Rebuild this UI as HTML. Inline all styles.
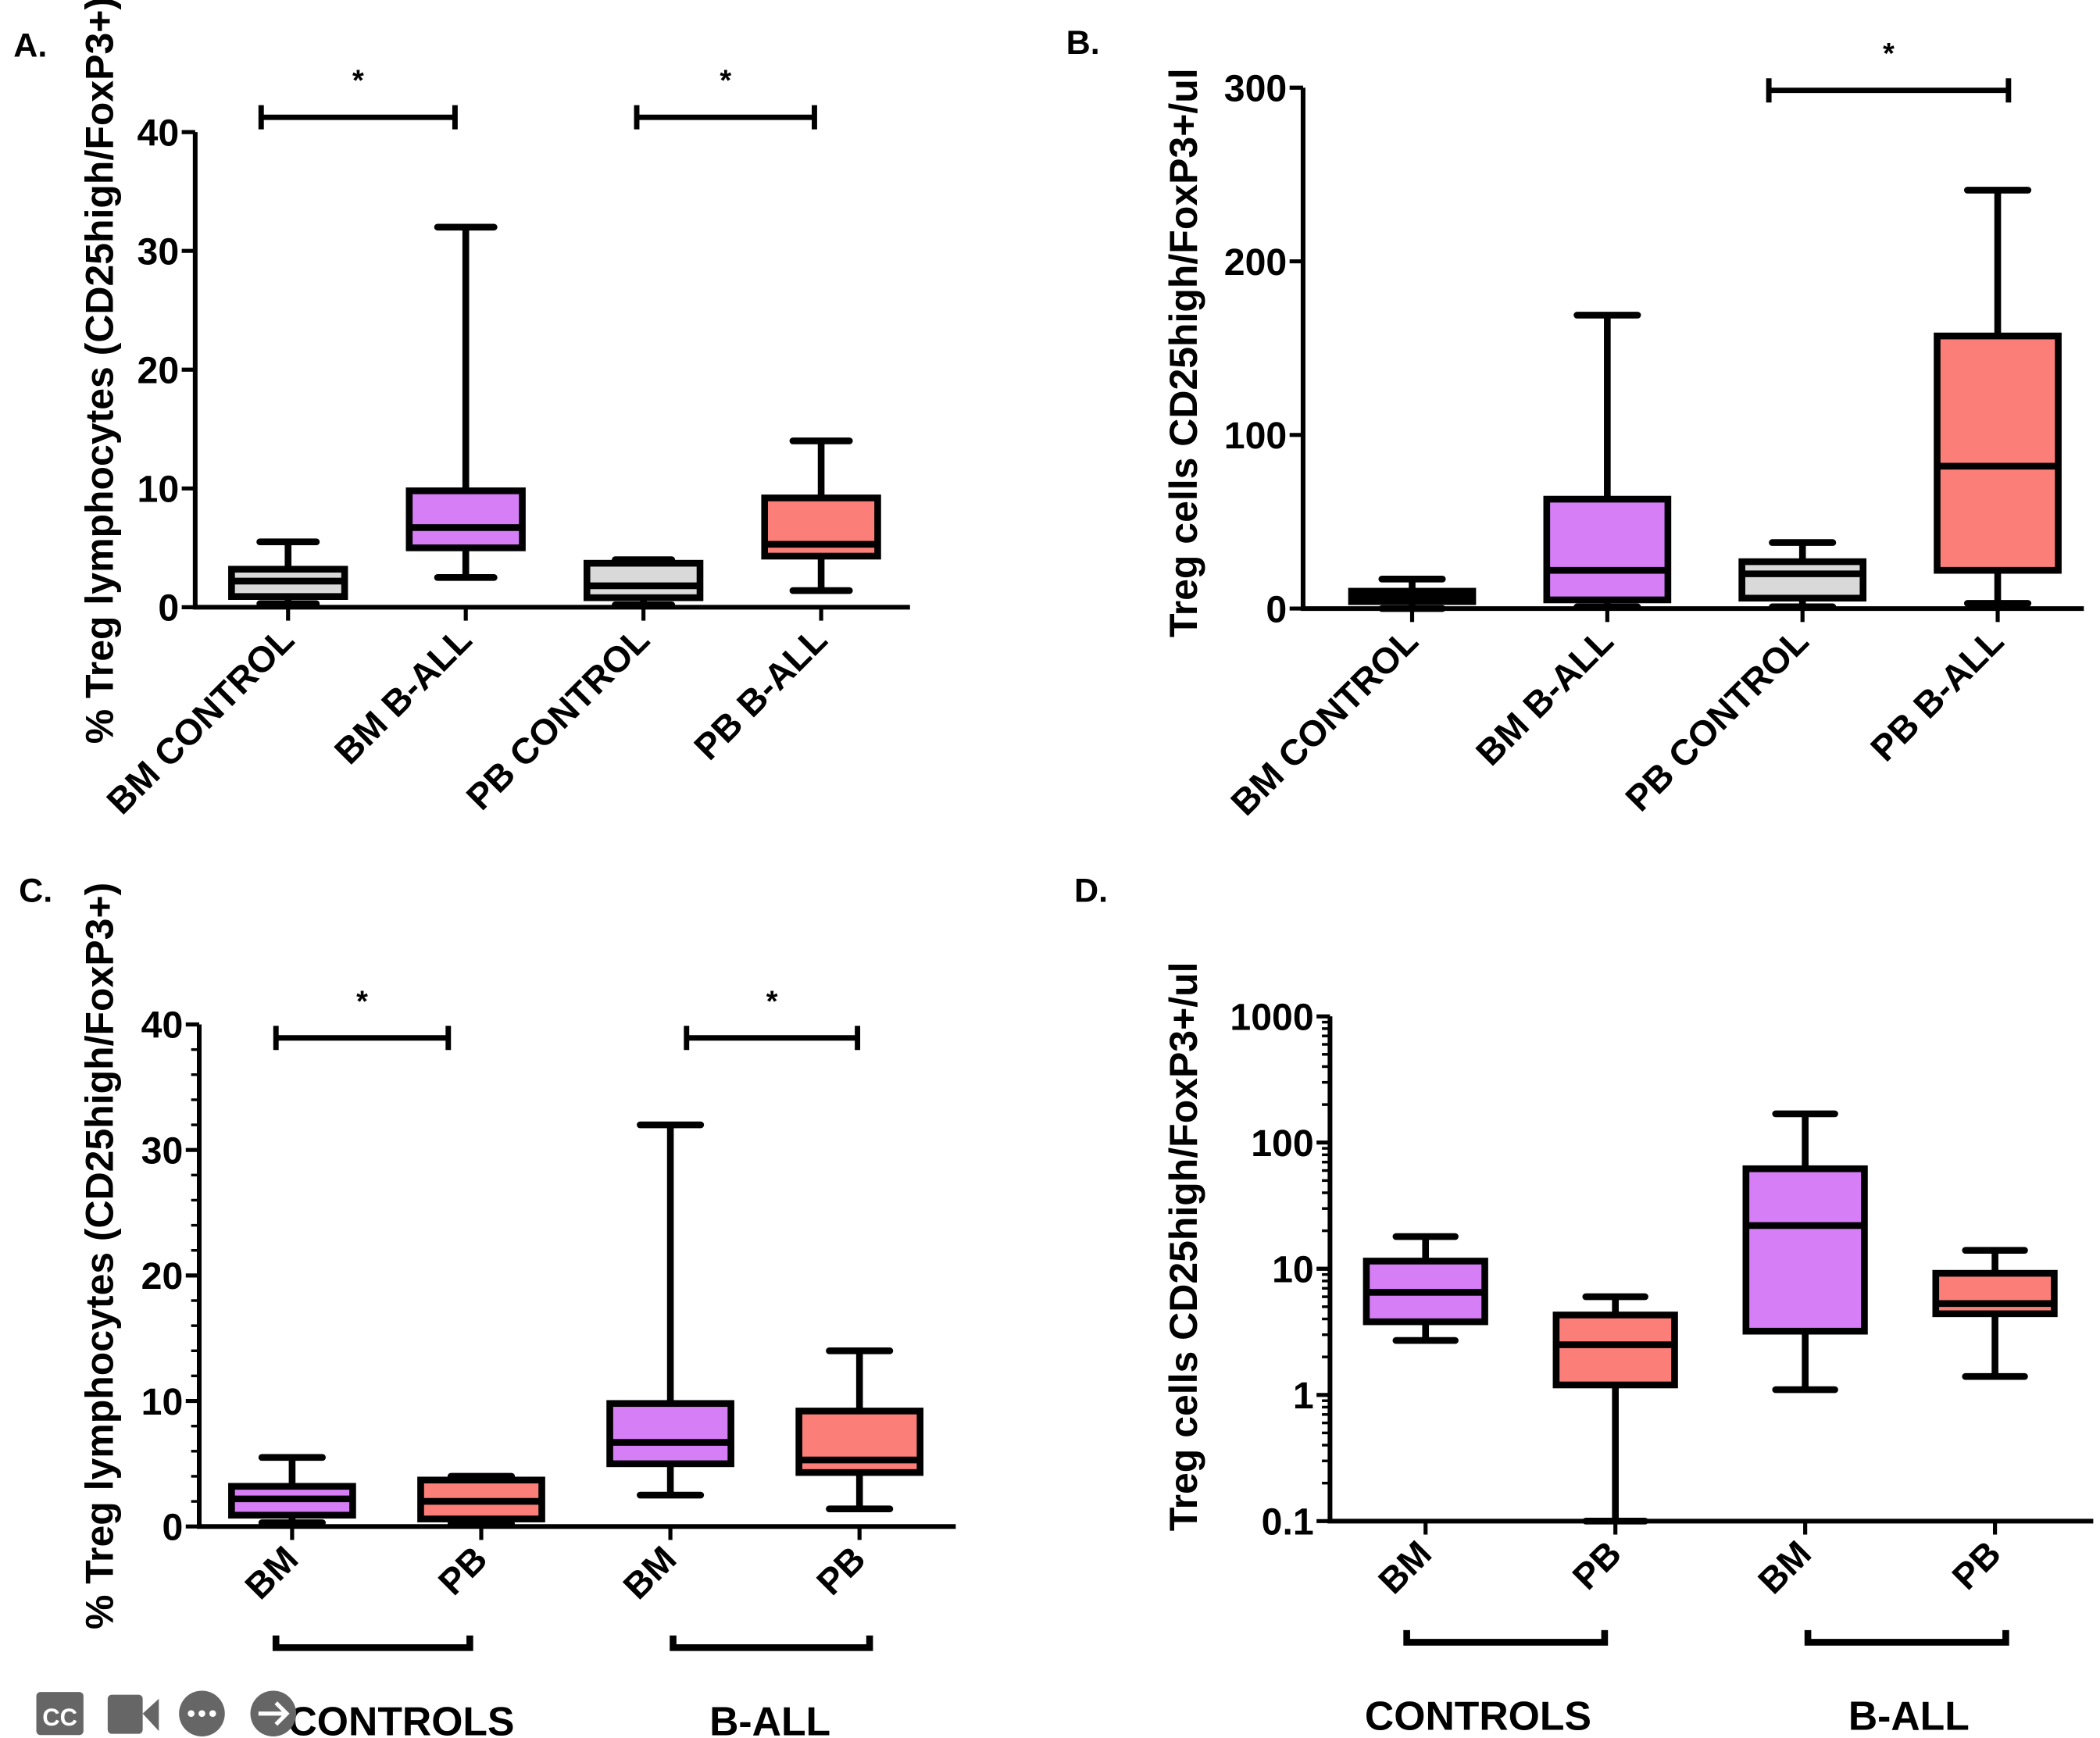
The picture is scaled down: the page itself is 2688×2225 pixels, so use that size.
<!DOCTYPE html>
<html><head><meta charset="utf-8"><style>
html,body{margin:0;padding:0;background:#fff}
svg{display:block}
text{font-family:"Liberation Sans",Arial,sans-serif;font-weight:bold;fill:#000}
</style></head><body>
<svg id="fig" xmlns="http://www.w3.org/2000/svg" width="2688" height="2225" viewBox="0 0 1560 1291">
<text x="10" y="42" font-size="25">A.</text>
<text x="792" y="40" font-size="25">B.</text>
<text x="14" y="670" font-size="25">C.</text>
<text x="798" y="670" font-size="25">D.</text>
<g id="icons" fill="#666">
<rect x="27" y="1257" width="35" height="32" rx="3"/>
<text x="44.5" y="1282" font-size="18" text-anchor="middle" style="fill:#fff">CC</text>
<rect x="80" y="1259" width="26" height="29" rx="3"/>
<polygon points="106,1273 118,1262 118,1286"/>
<circle cx="150" cy="1273" r="17"/>
<circle cx="142" cy="1273" r="2.5" fill="#fff"/><circle cx="150" cy="1273" r="2.5" fill="#fff"/><circle cx="158" cy="1273" r="2.5" fill="#fff"/>
<circle cx="203" cy="1273" r="17"/>
<path d="M192 1273 H213 M205 1265 L213 1273 L205 1281" stroke="#fff" stroke-width="3" fill="none"/>
</g>
</svg>
<script>
// Panel A data
const catsA = ["BM CONTROL","BM B-ALL","PB CONTROL","PB B-ALL"];
const minA = [0.3, 2.5, 0.2, 1.4];
const q1A = [0.9, 5.0, 0.8, 4.3];
const medA = [2.2, 6.7, 1.8, 5.3];
const q3A = [3.2, 9.8, 3.7, 9.2];
const maxA = [5.5, 32, 4.0, 14];
const ticksA = [0,10,20,30,40];
// Panel B data
const catsB = ["BM CONTROL","BM B-ALL","PB CONTROL","PB B-ALL"];
const minB = [0, 1, 1, 3];
const q1B = [4, 5, 6, 22];
const medB = [7, 22, 20, 82];
const q3B = [10, 63, 27, 157];
const maxB = [17, 169, 38, 241];
const ticksB = [0,100,200,300];
// Panel C data
const catsC = ["BM","PB","BM","PB"];
const minC = [0.3, 0.2, 2.5, 1.4];
const q1C = [0.9, 0.6, 5.0, 4.3];
const medC = [2.2, 2.0, 6.7, 5.3];
const q3C = [3.2, 3.7, 9.8, 9.2];
const maxC = [5.5, 4.0, 32, 14];
const ticksC = [0,10,20,30,40];
// Panel D data
const catsD = ["BM","PB","BM","PB"];
const minD = [2.7, 0.1, 1.1, 1.4];
const q1D = [3.8, 1.2, 3.2, 4.4];
const medD = [6.5, 2.5, 22, 5.3];
const q3D = [11.5, 4.3, 62, 9.2];
const maxD = [18, 6, 169, 14];
const ticksD = [0.1,1,10,100,1000];
const tickLabelsD = ["0.1","1","10","100","1000"];

const NS="http://www.w3.org/2000/svg";
const svg=document.getElementById('fig');
function mk(tag,attrs,parent){const e=document.createElementNS(NS,tag);for(const k in attrs)e.setAttribute(k,attrs[k]);(parent||svg).appendChild(e);return e;}
const COL={g:"#d9d9d9",p:"#d57ef5",r:"#fb7f78"};

function panel(o){
  const g=mk('g',{});
  
  
  const y=o.log? v=>o.y0+(Math.log10(v)-Math.log10(o.d0))/(Math.log10(o.d1)-Math.log10(o.d0))*(o.y1-o.y0)
               : v=>o.y0+(v-o.d0)/(o.d1-o.d0)*(o.y1-o.y0);
  const x=i=>o.xs+i*o.step;
  const ax=mk('path',{d:`M${o.ax} ${o.y1} V${o.y0} H${o.axEnd}`,stroke:"#000","stroke-width":3.5,fill:"none"},g);
  
  
  o.ticks.forEach((t,i)=>{
    mk('line',{x1:o.ax-10,x2:o.ax,y1:y(t),y2:y(t),stroke:"#000","stroke-width":3},g);
    const tx=mk('text',{x:o.ax-12,y:y(t)+10,"font-size":28,"text-anchor":"end"},g);
    tx.textContent=o.tickLabels?o.tickLabels[i]:t;
    
    
  });
  if(o.minor){
    if(o.log){for(let d=o.d0;d<o.d1;d*=10){for(let k=2;k<10;k++)mk('line',{x1:o.ax-6,x2:o.ax,y1:y(d*k),y2:y(d*k),stroke:"#000","stroke-width":2},g);}}
    else{for(let v=o.d0;v<=o.d1;v+=o.minor)mk('line',{x1:o.ax-6,x2:o.ax,y1:y(v),y2:y(v),stroke:"#000","stroke-width":2},g);}
  }
  const tt=mk('text',{transform:`translate(${o.tx},${o.ty}) rotate(-90)`,"font-size":29,"text-anchor":"middle"},g);
  tt.textContent=o.title;
  
  
  o.cats.forEach((c,i)=>{
    const cx=x(i),w=o.bw;
    mk('line',{x1:cx,x2:cx,y1:o.y0,y2:o.y0+10,stroke:"#000","stroke-width":3},g);
    const lb=mk('text',{transform:`translate(${cx+6},${o.y0+26}) rotate(-45)`,"font-size":27,"text-anchor":"end"},g);
    lb.textContent=c;
    
    
    const wk=mk('path',{d:`M${cx} ${y(o.mx[i])} V${y(o.q3[i])} M${cx} ${y(o.q1[i])} V${y(o.mn[i])} M${cx-w/4} ${y(o.mx[i])} H${cx+w/4} M${cx-w/4} ${y(o.mn[i])} H${cx+w/4}`,stroke:"#000","stroke-width":5,fill:"none","stroke-linecap":"round"},g);
    
    
    const bx=mk('rect',{x:cx-w/2,y:y(o.q3[i]),width:w,height:y(o.q1[i])-y(o.q3[i]),fill:COL[o.cols[i]],stroke:"#000","stroke-width":5},g);
    
    
    mk('line',{x1:cx-w/2,x2:cx+w/2,y1:y(o.md[i]),y2:y(o.md[i]),stroke:"#000","stroke-width":5},g);
  });
  (o.sig||[]).forEach(s=>{
    const b=mk('path',{d:`M${s[0]} ${s[2]-9} V${s[2]+9} M${s[0]} ${s[2]} H${s[1]} M${s[1]} ${s[2]-9} V${s[2]+9}`,stroke:"#000","stroke-width":4,fill:"none"},g);
    
    
    const st=mk('text',{x:(s[0]+s[1])/2,y:s[2]-20,"font-size":22,"text-anchor":"middle"},g);
    st.textContent="*";
  });
  (o.groups||[]).forEach(s=>{
    const b=mk('path',{d:`M${s[0]} ${s[2]-9} V${s[2]} H${s[1]} V${s[2]-9}`,stroke:"#000","stroke-width":5,fill:"none"},g);
    
    
    const t=mk('text',{x:s[4],y:s[2]+65,"font-size":30,"text-anchor":"middle"},g);
    t.textContent=s[3];
    
    
  });
}
const T1="% Treg lymphocytes (CD25high/FoxP3+)", T2="Treg cells CD25high/FoxP3+/ul";
panel({name:"panel-a",ax:145,axEnd:676,y0:451,y1:98,d0:0,d1:40,ticks:ticksA,xs:214,step:132,bw:84,cats:catsA,mn:minA,q1:q1A,md:medA,q3:q3A,mx:maxA,cols:["g","p","g","r"],title:T1,tx:84,ty:275,sig:[[194,338,87],[473,605,87]]});
panel({name:"panel-b",ax:968,axEnd:1548,y0:452,y1:65,d0:0,d1:300,ticks:ticksB,xs:1049,step:145,bw:90,cats:catsB,mn:minB,q1:q1B,md:medB,q3:q3B,mx:maxB,cols:["g","p","g","r"],title:T2,tx:889,ty:262,sig:[[1314,1492,67]]});
panel({name:"panel-c",ax:148,axEnd:710,y0:1134,y1:761,d0:0,d1:40,minor:2,ticks:ticksC,xs:217,step:140.5,bw:90,cats:catsC,mn:minC,q1:q1C,md:medC,q3:q3C,mx:maxC,cols:["p","r","p","r"],title:T1,tx:84,ty:933,sig:[[205,333,771],[510,637,771]],groups:[[205,349,1224,"CONTROLS",298],[500,646,1224,"B-ALL",572]]});
panel({name:"panel-d",ax:988,axEnd:1555,y0:1130,y1:755,d0:0.1,d1:1000,log:true,minor:1,ticks:ticksD,tickLabels:tickLabelsD,xs:1059,step:141,bw:88,cats:catsD,mn:minD,q1:q1D,md:medD,q3:q3D,mx:maxD,cols:["p","r","p","r"],title:T2,tx:889,ty:926,groups:[[1045,1192,1220,"CONTROLS",1098],[1343,1490,1220,"B-ALL",1418]]});
svg.appendChild(document.getElementById('icons'));
</script>
</body></html>
